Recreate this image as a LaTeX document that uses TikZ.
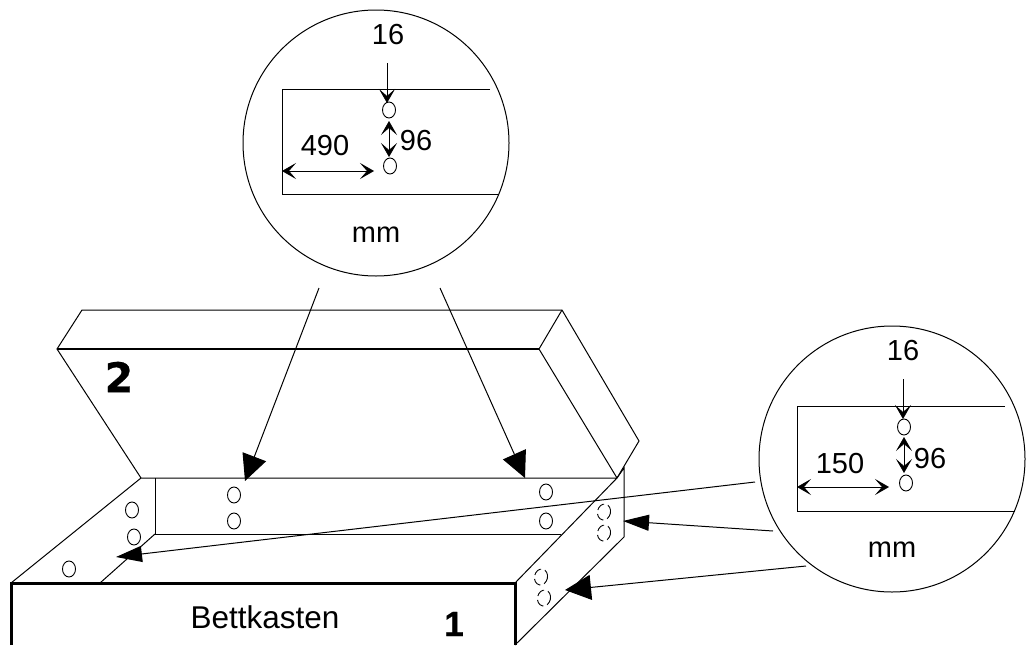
\documentclass[tikz,border=0pt]{standalone}
\usepackage{fontspec}
\setmainfont{Liberation Sans}
\newfontfamily\heavyfont{DejaVu Sans Bold}[FakeBold=0.6]
\newfontfamily\blackfont{Liberation Sans Bold}[FakeBold=0.4]
\usetikzlibrary{arrows.meta,shapes.geometric}
\tikzset{
  thinline/.style={line width=1pt,draw=black},
  heavyline/.style={line width=3pt,draw=black},
  lens/.style={circle,draw=black,line width=1pt,minimum size=266pt,inner sep=0pt},
  hole/.style={ellipse,draw=black,line width=0.9pt,minimum width=13pt,minimum height=16pt,inner sep=0pt},
  hiddenhole/.style={hole,dash pattern=on 9pt off 4pt,rotate=-12},
  bigarrow/.style={line width=1pt,-{Triangle[length=26pt,width=25pt]}},
  slimarrow/.style={line width=1pt,-{Triangle[length=26pt,width=16pt]}},
  dimhead/.tip={Stealth[length=14pt,width=16pt,inset=7pt,line width=0.6pt]},
  dimarrow/.style={line width=1pt,-dimhead},
  dimboth/.style={line width=1pt,dimhead-dimhead},
  dimtext/.style={inner sep=0pt,font=\fontsize{29}{31}\selectfont},
}
\begin{document}
\begin{tikzpicture}[x=1pt,y=-1pt]
\useasboundingbox (0,0) rectangle (1030,645);
% lid
\coordinate (la) at (82,310); \coordinate (lb) at (562,310); \coordinate (lc) at (639,441);
\coordinate (ld) at (57,349); \coordinate (le) at (539,349);
\coordinate (hl) at (141,478); \coordinate (hr) at (617,478); \coordinate (hq) at (624,468);
\draw[thinline] (hl) -- (ld) -- (la) -- (lb) -- (lc) -- (hr);
\draw[line width=1.4pt] (ld) -- (le);
\draw[thinline] (lb) -- (le) -- (hr);
% box
\coordinate (fa) at (11,583); \coordinate (fb) at (515,583);
\coordinate (fc) at (11,645); \coordinate (fd) at (515,645);
\coordinate (ia) at (155,478); \coordinate (ib) at (155,534); \coordinate (ic) at (561,534);
\coordinate (id) at (100,583); \coordinate (ie) at (624,537);
\draw[thinline] (fa) -- (hl) -- (hr) -- (fb);
\draw[thinline] (ia) -- (ib) -- (ic);
\draw[thinline] (ib) -- (id);
\draw[thinline] (fd) -- (ie) -- (hq) -- (hr);
\draw[heavyline] (fc) -- (fa) -- (fb) -- (fd);
% holes
\node[hole] (h1) at (132,510) {};
\node[hole] (h2) at (134,537) {};
\node[hole] (h3) at (69,569) {};
\node[hole] (h4) at (234,495) {};
\node[hole] (h5) at (234,521) {};
\node[hole] (h6) at (546,492) {};
\node[hole] (h7) at (546,521) {};
\node[hiddenhole] (h8) at (604,512) {};
\node[hiddenhole] (h9) at (604,533) {};
\node[hiddenhole] (h10) at (541,577) {};
\node[hiddenhole] (h11) at (544,598) {};
% labels on the box
\node[inner sep=0pt,font=\fontsize{31.5}{33}\selectfont] (bett) at (265,617) {Bettkasten};
\node[inner sep=0pt,font=\blackfont\fontsize{35}{37}\selectfont] (one) at (454,624) {1};
\node[inner sep=0pt,font=\heavyfont\fontsize{41}{43}\selectfont] (two) at (119,377) {2};
% upper lens
\node[lens] (lensa) at (376,143) {};
\coordinate (ra) at (490,89); \coordinate (rb) at (282,89); \coordinate (rc) at (282,194); \coordinate (rd) at (499,194);
\draw[thinline] (ra) -- (rb) -- (rc) -- (rd);
\node[hole] (a1) at (389,110) {};
\node[hole] (a2) at (390,166) {};
\coordinate (a16) at (387,63);
\coordinate (a16e) at (387,103);
\draw[dimarrow] (a16) -- (a16e);
\draw[dimboth] (389,121) coordinate (a96a) -- (389,157) coordinate (a96b);
\coordinate (a490a) at (282,171); \coordinate (a490b) at (374,171);
\draw[dimboth] (a490a) -- (a490b);
\node[dimtext] (ta16) at (388,35) {16};
\node[dimtext] (ta96) at (416,141) {96};
\node[dimtext] (ta490) at (325,146) {490};
\node[dimtext] (tamm) at (376,235) {mm};
% right lens
\node[lens] (lensb) at (892,459) {};
\coordinate (sa) at (1005,406); \coordinate (sb) at (797,406); \coordinate (sc) at (797,511); \coordinate (sd) at (1015,511);
\draw[thinline] (sa) -- (sb) -- (sc) -- (sd);
\node[hole] (b1) at (904,427) {};
\node[hole] (b2) at (906,483) {};
\coordinate (b16) at (903,379);
\coordinate (b16e) at (903,419);
\draw[dimarrow] (b16) -- (b16e);
\draw[dimboth] (904,437) coordinate (b96a) -- (904,473) coordinate (b96b);
\coordinate (b150a) at (797,487); \coordinate (b150b) at (889,487);
\draw[dimboth] (b150a) -- (b150b);
\node[dimtext] (tb16) at (903,351) {16};
\node[dimtext] (tb96) at (930,459) {96};
\node[dimtext] (tb150) at (840,464) {150};
\node[dimtext] (tbmm) at (892,550) {mm};
% pointer arrows
\coordinate (p1) at (319,288); \coordinate (q1) at (245,481);
\coordinate (p2) at (440,288); \coordinate (q2) at (525,478);
\coordinate (p3) at (755,482); \coordinate (q3) at (116,557);
\coordinate (p4) at (773,531); \coordinate (q4) at (623,521);
\coordinate (p5) at (806,566); \coordinate (q5) at (565,590);
\draw[bigarrow] (p1) -- (q1);
\draw[bigarrow] (p2) -- (q2);
\draw[slimarrow] (p3) -- (q3);
\draw[slimarrow] (p4) -- (q4);
\draw[bigarrow] (p5) -- (q5);
\end{tikzpicture}
\end{document}
